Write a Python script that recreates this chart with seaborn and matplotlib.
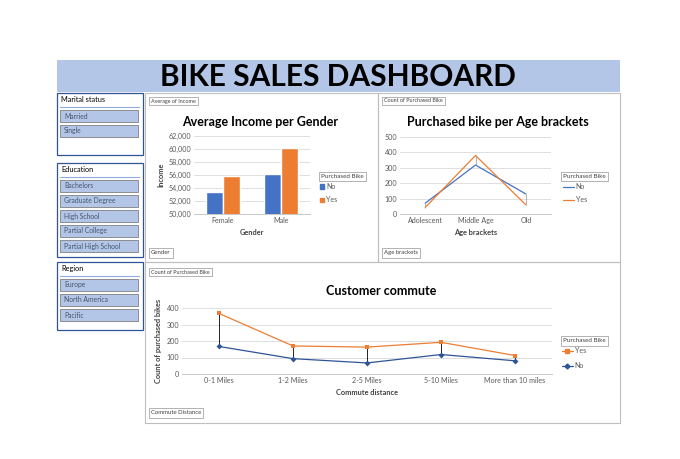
import matplotlib
matplotlib.use('Agg')
import matplotlib.pyplot as plt
import seaborn as sns
import pandas as pd
from matplotlib.patches import Rectangle, Patch
from matplotlib.lines import Line2D
from matplotlib.ticker import FuncFormatter

# Slicer items
marital = ['Married', 'Single']
education = ['Bachelors', 'Graduate Degree', 'High School', 'Partial College', 'Partial High School']
regions = ['Europe', 'North America', 'Pacific']

# Average income per gender
genders = ['Female', 'Male']
income_no = [53400, 56200]
income_yes = [55800, 60100]

# Purchased bike per age bracket
age_brackets = ['Adolescent', 'Middle Age', 'Old']
age_no = [70, 318, 130]
age_yes = [42, 380, 60]

# Customer commute
commute = ['0-1 Miles', '1-2 Miles', '2-5 Miles', '5-10 Miles', 'More than 10 miles']
commute_yes = [367, 170, 163, 192, 112]
commute_no = [167, 93, 67, 118, 80]

BLUE = '#4472C4'
ORANGE = '#ED7D31'
TXT = '#595959'
W, H = 680, 459

sns.set_theme(style='white')
plt.rcParams['font.family'] = ['Lato', 'DejaVu Sans']

fig = plt.figure(figsize=(W / 100, H / 100), dpi=100)


def fx(x):
    return x / W


def fy(y):
    return 1 - y / H


def rect(x0, y0, x1, y1, **kw):
    fig.add_artist(Rectangle((fx(x0), fy(y1)), (x1 - x0) / W, (y1 - y0) / H,
                             transform=fig.transFigure, **kw))


def axes_px(x0, y0, x1, y1):
    return fig.add_axes([fx(x0), fy(y1), (x1 - x0) / W, (y1 - y0) / H])


def field_button(x, y, text, size=4.3):
    fig.text(fx(x), fy(y), text, fontsize=size, va='center', ha='left', color='#404040',
             bbox=dict(boxstyle='square,pad=0.35', fc='white', ec='#a6a6a6', lw=0.6))


def style_axes(ax):
    for s in ['top', 'right', 'left']:
        ax.spines[s].set_visible(False)
    ax.spines['bottom'].set_color('#bfbfbf')
    ax.spines['bottom'].set_linewidth(0.6)
    ax.grid(axis='y', color='#d9d9d9', lw=0.6)
    ax.grid(axis='x', visible=False)
    ax.set_axisbelow(True)
    ax.tick_params(labelsize=5.1, length=0, colors=TXT, pad=2)


# Title banner
rect(57, 60, 620, 92, fc='#b4c6e7', ec='none')
fig.text(fx(338), fy(77), 'BIKE SALES DASHBOARD', fontsize=21.5, fontweight='bold',
         ha='center', va='center', color='black')

# Panels
rect(145, 93, 378, 262, fc='none', ec='#bfbfbf', lw=0.8)
rect(378, 93, 620, 262, fc='none', ec='#bfbfbf', lw=0.8)
rect(145, 262, 620, 423, fc='none', ec='#bfbfbf', lw=0.8)


# Slicers
def slicer(y0, y1, title, items):
    rect(57, y0, 143, y1, fc='white', ec='#2f5597', lw=0.9)
    fig.text(fx(61), fy(y0 + 7), title, fontsize=5.3, va='center', color='black')
    fig.add_artist(Line2D([fx(60), fx(139)], [fy(y0 + 14)] * 2,
                          transform=fig.transFigure, color='#8faadc', lw=0.8))
    for i, item in enumerate(items):
        top = y0 + 17 + i * 15
        rect(60, top, 138, top + 12, fc='#b4c6e7', ec='#7f7f7f', lw=0.6)
        fig.text(fx(64), fy(top + 6), item, fontsize=4.9, va='center', color='#44546a')


slicer(93, 155, 'Marital status', marital)
slicer(163, 257, 'Education', education)
slicer(262, 330, 'Region', regions)

# Chart 1: average income per gender
ax1 = axes_px(194, 136, 310, 214)
df_income = pd.DataFrame({'Gender': genders * 2,
                          'Purchased Bike': ['No'] * len(genders) + ['Yes'] * len(genders),
                          'Income': income_no + income_yes})
sns.barplot(data=df_income, x='Gender', y='Income', hue='Purchased Bike',
            palette=[BLUE, ORANGE], width=0.57, saturation=1, legend=False, ax=ax1)
ax1.set_ylim(50000, 62000)
ax1.set_yticks(range(50000, 62001, 2000))
ax1.yaxis.set_major_formatter(FuncFormatter(lambda v, p: f'{v:,.0f}'))
style_axes(ax1)
ax1.set_xlabel('Gender', fontsize=5.3, fontweight='bold', color='#404040', labelpad=4)
ax1.set_ylabel('Income', fontsize=5.3, fontweight='bold', color='#404040', labelpad=3)
fig.text(fx(260), fy(122), 'Average Income per Gender', fontsize=9, fontweight='bold',
         ha='center', va='center', color='black')
field_button(151, 101, 'Average of Income', 3.9)
field_button(151, 253, 'Gender', 4.3)
field_button(321, 176.5, 'Purchased Bike', 4.5)
fig.legend([Patch(color=BLUE), Patch(color=ORANGE)], ['No', 'Yes'], loc='upper left',
           bbox_to_anchor=(fx(320), fy(183)), frameon=False, fontsize=5.1,
           handlelength=0.5, handleheight=0.5, handletextpad=0.4, labelspacing=0.9,
           borderpad=0, borderaxespad=0, labelcolor=TXT)

# Chart 2: purchased bike per age bracket
ax2 = axes_px(400, 137, 551, 214)
df_age = pd.DataFrame({'Age': age_brackets * 2,
                       'Purchased Bike': ['No'] * len(age_brackets) + ['Yes'] * len(age_brackets),
                       'Count': age_no + age_yes})
sns.lineplot(data=df_age, x='Age', y='Count', hue='Purchased Bike', palette=[BLUE, ORANGE],
             sort=False, lw=0.9, legend=False, ax=ax2)
ax2.vlines(range(len(age_brackets)), [min(a, b) for a, b in zip(age_no, age_yes)],
           [max(a, b) for a, b in zip(age_no, age_yes)], color='#a6a6a6', lw=0.6)
ax2.set_xlim(-0.5, len(age_brackets) - 0.5)
ax2.set_ylim(0, 500)
ax2.set_yticks(range(0, 501, 100))
style_axes(ax2)
ax2.set_xlabel('Age brackets', fontsize=5.3, fontweight='bold', color='#404040', labelpad=4)
ax2.set_ylabel('')
fig.text(fx(498), fy(122), 'Purchased bike per Age brackets', fontsize=9, fontweight='bold',
         ha='center', va='center', color='black')
field_button(384, 101, 'Count of Purchased Bike', 3.9)
field_button(384, 253, 'Age brackets', 4.3)
field_button(563, 176.5, 'Purchased Bike', 4.5)
fig.legend([Line2D([], [], color=BLUE, lw=0.9), Line2D([], [], color=ORANGE, lw=0.9)],
           ['No', 'Yes'], loc='upper left', bbox_to_anchor=(fx(563), fy(183)), frameon=False,
           fontsize=5.1, handlelength=1.5, handletextpad=0.3, labelspacing=0.9,
           borderpad=0, borderaxespad=0, labelcolor=TXT)

# Chart 3: customer commute
ax3 = axes_px(182, 308, 552, 374)
df_commute = pd.DataFrame({'Commute': commute * 2,
                           'Purchased Bike': ['Yes'] * len(commute) + ['No'] * len(commute),
                           'Count': commute_yes + commute_no})
sns.lineplot(data=df_commute, x='Commute', y='Count', hue='Purchased Bike',
             style='Purchased Bike', markers={'Yes': 's', 'No': 'D'}, dashes=False,
             palette={'Yes': ORANGE, 'No': '#2f5597'}, markersize=3, markeredgewidth=0,
             sort=False, lw=0.9, legend=False, ax=ax3)
ax3.vlines(range(len(commute)), commute_no, commute_yes, color='black', lw=0.6, zorder=1)
ax3.set_xlim(-0.5, len(commute) - 0.5)
ax3.set_ylim(0, 400)
ax3.set_yticks(range(0, 401, 100))
style_axes(ax3)
ax3.set_xlabel('Commute distance', fontsize=5.3, fontweight='bold', color='#404040', labelpad=4)
ax3.set_ylabel('Count of purchased bikes', fontsize=5.3, fontweight='bold', color='#404040',
               labelpad=3)
fig.text(fx(381), fy(291), 'Customer commute', fontsize=9, fontweight='bold',
         ha='center', va='center', color='black')
field_button(151, 272, 'Count of Purchased Bike', 3.9)
field_button(151, 413, 'Commute Distance', 4.3)
field_button(563, 341, 'Purchased Bike', 4.5)
fig.legend([Line2D([], [], color=ORANGE, lw=0.9, marker='s', ms=3),
            Line2D([], [], color='#2f5597', lw=0.9, marker='D', ms=2.5)],
           ['Yes', 'No'], loc='upper left', bbox_to_anchor=(fx(562), fy(347)), frameon=False,
           fontsize=5.1, handlelength=1.5, handletextpad=0.3, labelspacing=1.2,
           borderpad=0, borderaxespad=0, labelcolor=TXT)

fig.savefig('out.png', dpi=100, facecolor='white')
